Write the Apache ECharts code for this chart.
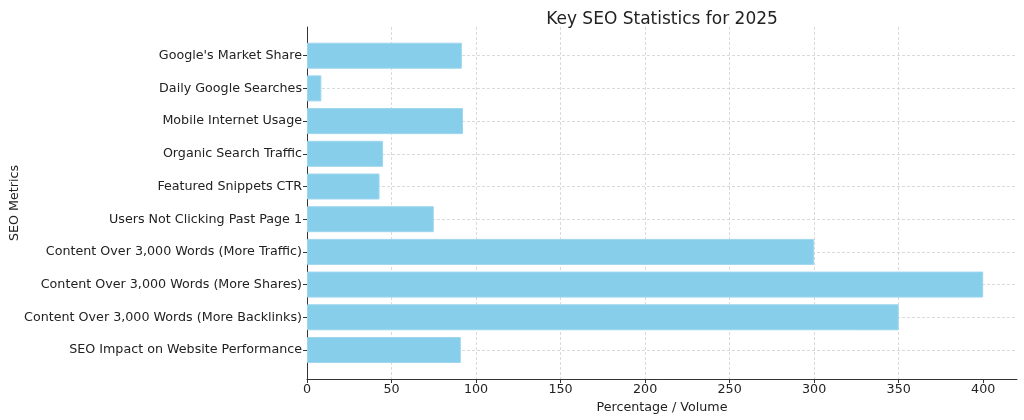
<!DOCTYPE html>
<html>
<head>
<meta charset="utf-8">
<script src="https://cdn.jsdelivr.net/npm/echarts@6/dist/echarts.min.js"></script>
<style>
html,body{margin:0;padding:0;background:#fff;}
#chart{width:1024px;height:420px;}
</style>
</head>
<body>
<div id="chart"></div>
<script>
const categories = [
  "Google's Market Share",
  "Daily Google Searches",
  "Mobile Internet Usage",
  "Organic Search Traffic",
  "Featured Snippets CTR",
  "Users Not Clicking Past Page 1",
  "Content Over 3,000 Words (More Traffic)",
  "Content Over 3,000 Words (More Shares)",
  "Content Over 3,000 Words (More Backlinks)",
  "SEO Impact on Website Performance"
];
const values = [91.6, 8.5, 92.3, 45, 42.9, 75, 300, 400, 350, 91];
const xTicks = [0, 50, 100, 150, 200, 250, 300, 350, 400];

const FONT = 'DejaVu Sans';
const TXT = '#222';
const FS = 12.7;
const chart = echarts.init(document.getElementById('chart'), null, {renderer: 'canvas'});
chart.setOption({
  animation: false,
  backgroundColor: '#fff',
  textStyle: {fontFamily: FONT},
  title: {
    text: 'Key SEO Statistics for 2025',
    left: 657, top: 6, textAlign: 'center',
    textStyle: {fontFamily: FONT, fontSize: 17, fontWeight: 'normal', color: TXT}
  },
  grid: [
    {left: 307, right: 7, top: 27, bottom: 41},
    {left: 307, right: 7, top: 55.7, bottom: 70}
  ],
  xAxis: [
    {
      gridIndex: 0, type: 'value', min: 0, max: 420, interval: 50,
      name: 'Percentage / Volume', nameLocation: 'middle', nameGap: 19,
      nameTextStyle: {fontFamily: FONT, fontSize: FS, color: TXT},
      axisLine: {show: true, lineStyle: {color: '#333', width: 1}},
      axisTick: {show: true, length: 4, customValues: xTicks, lineStyle: {color: '#333'}},
      axisLabel: {fontFamily: FONT, fontSize: FS, color: TXT, margin: 4, customValues: xTicks},
      splitLine: {show: true, showMaxLine: false, lineStyle: {color: '#d0d0d0', type: [3, 2], width: 0.8}}
    },
    {
      gridIndex: 1, type: 'value', min: 0, max: 420, show: false
    }
  ],
  yAxis: [
    {
      gridIndex: 0, type: 'value', min: 0, max: 1,
      name: 'SEO Metrics', nameLocation: 'middle', nameGap: 286, nameRotate: 90,
      nameTextStyle: {fontFamily: FONT, fontSize: FS, color: TXT},
      axisLine: {show: true, lineStyle: {color: '#333', width: 1}},
      axisTick: {show: false}, axisLabel: {show: false}, splitLine: {show: false}
    },
    {
      gridIndex: 1, type: 'category', data: categories, inverse: true, boundaryGap: false,
      axisLine: {show: false},
      axisTick: {show: true, length: 4, alignWithLabel: true, lineStyle: {color: '#333'}},
      axisLabel: {interval: 0, fontFamily: FONT, fontSize: FS, color: TXT, margin: 5},
      splitLine: {show: true, interval: 0, lineStyle: {color: '#d0d0d0', type: [3, 2], width: 0.8}}
    }
  ],
  series: [{
    type: 'bar', xAxisIndex: 1, yAxisIndex: 1, data: values,
    barWidth: 26, clip: false, z: 3,
    itemStyle: {color: '#87CEEB', borderColor: '#9dd6ee', borderWidth: 1}
  }]
});
</script>
</body>
</html>
